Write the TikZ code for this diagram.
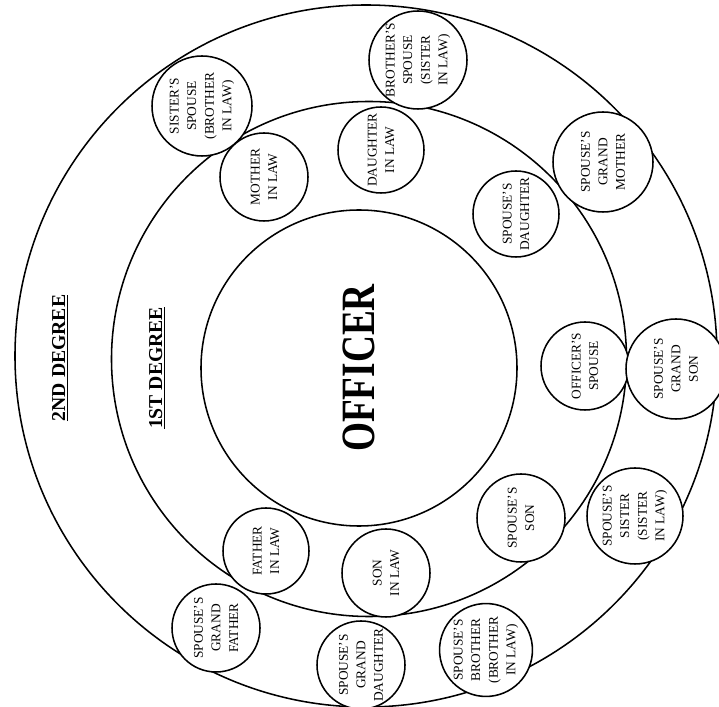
\documentclass[tikz,border=0pt]{standalone}
\usepackage{fontspec}
\setmainfont{Liberation Serif}
\usetikzlibrary{positioning}
\tikzset{
  ring/.style={draw,circle,line width=1.1pt,inner sep=0pt},
  kin/.style={draw,circle,line width=1.1pt,fill=white,inner sep=0pt,
    rotate=90,align=center,font=\fontsize{9.5}{12.5}\selectfont},
  deg/.style={rotate=90,font=\fontsize{14}{16}\selectfont\bfseries}
}

\begin{document}
\begin{tikzpicture}[x=0.25mm,y=-0.25mm]
  \useasboundingbox (0,0) rectangle (719,707);
  % degree rings
  \node[ring,minimum size=175.5mm] (ring2) at (366,356) {};
  \node[ring,minimum size=128.75mm] (ring1) at (369,359) {};
  \node[ring,minimum size=79mm,rotate=90,font=\fontsize{34}{36}\selectfont\bfseries]
    (officer) at (359,368) {\scalebox{0.78}[1]{OFFICER}};
  \node[deg] (deg2) at (60,358) {\underline{2ND DEGREE}};
  \node[deg] (deg1) at (157,368) {\underline{1ST DEGREE}};
  % relatives
  \foreach \nm/\x/\y/\d/\txt in {
      bsp/418/60/24.5/BROTHER'S\\SPOUSE\\(SISTER\\IN LAW),
      ssp/202/106/25/SISTER'S\\SPOUSE\\(BROTHER\\IN LAW),
      mil/264/177/22/MOTHER\\IN LAW,
      dil/381/150/21.5/DAUGHTER\\IN LAW,
      sgm/603/162/25/SPOUSE'S\\GRAND\\MOTHER,
      sdt/516/214/21.5/SPOUSE'S\\DAUGHTER,
      osp/585/366/22/OFFICER'S\\SPOUSE,
      sgs/676/369/25/SPOUSE'S\\GRAND\\SON,
      sson/521/518/22/SPOUSE'S\\SON,
      sss/635/516/24/SPOUSE'S\\SISTER\\(SISTER\\IN LAW),
      fil/266/551/21.5/FATHER\\IN LAW,
      sil/386/573/22/SON\\IN LAW,
      sgf/216/628/22/SPOUSE'S\\GRAND\\FATHER,
      sgd/361/665/22/SPOUSE'S\\GRAND\\DAUGHTER,
      sbr/486/650/23/SPOUSE'S\\BROTHER\\(BROTHER\\IN LAW)}
    \node[kin,minimum size=\d mm] (\nm) at (\x,\y) {\txt};
\end{tikzpicture}
\end{document}
